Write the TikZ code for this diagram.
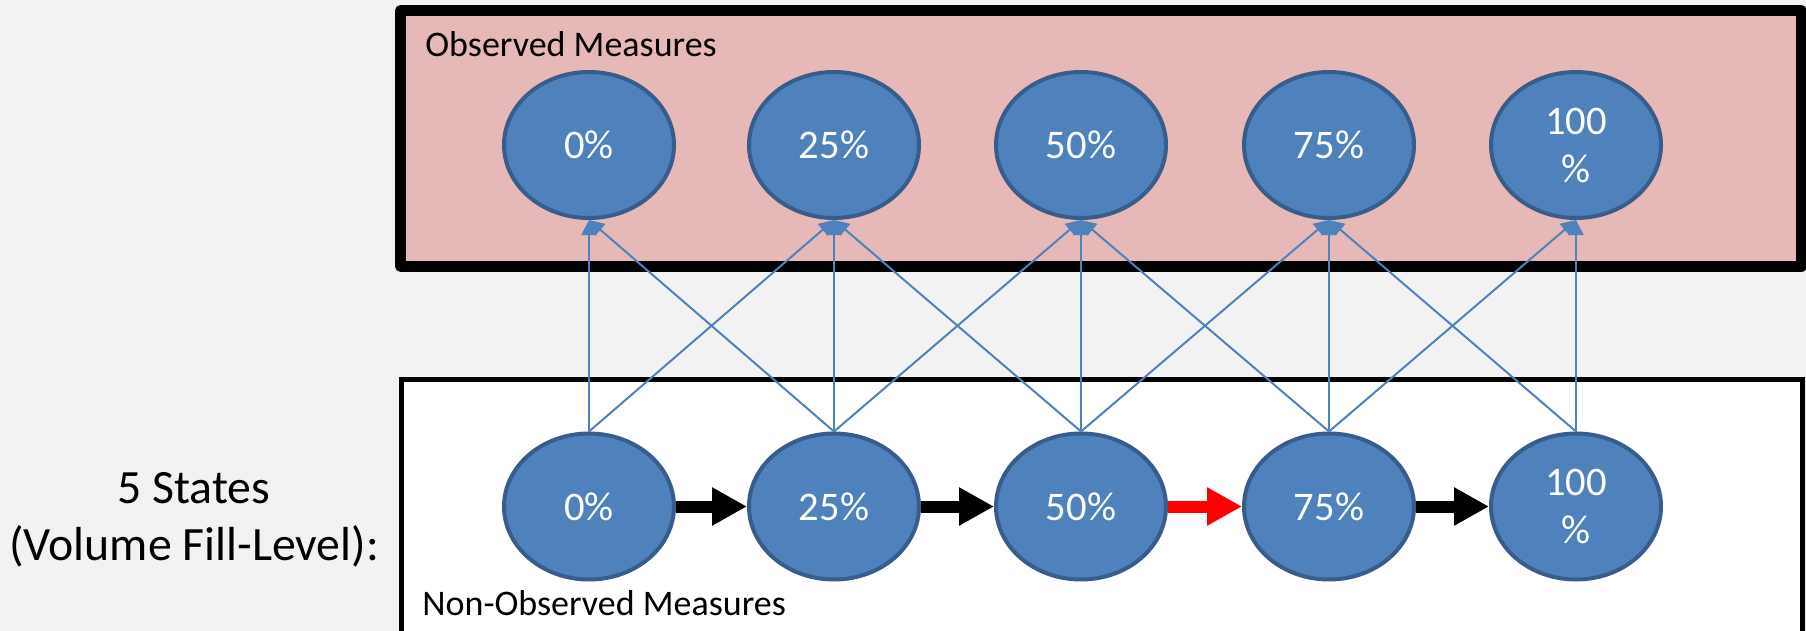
\documentclass[tikz,border=0pt]{standalone}
\usepackage{fontspec}
\setmainfont{Carlito}
\usetikzlibrary{shapes.geometric,arrows.meta}
\definecolor{bg}{HTML}{F2F2F2}
\definecolor{obsfill}{HTML}{E6B9B8}
\definecolor{nodefill}{HTML}{4F81BD}
\definecolor{nodeedge}{HTML}{385D8A}
\definecolor{linkblue}{HTML}{4F81BD}
\definecolor{hotred}{HTML}{FF0000}
\begin{document}
\begin{tikzpicture}[x=0.5pt,y=-0.5pt,
  state/.style={ellipse, draw=nodeedge, fill=nodefill, line width=2pt,
    minimum width=85pt, minimum height=73pt, inner sep=0pt,
    text=white, font=\fontsize{20.3}{24}\selectfont, align=center},
  emit/.style={draw=linkblue, line width=1pt, -{Triangle[length=7.5pt,width=7.5pt]}},
  trans/.style={line width=6pt, -{Triangle[length=17.5pt,width=18pt]}},
  boxlabel/.style={font=\fontsize{18}{21.6}\selectfont, anchor=base west, inner sep=0pt},
  sidelabel/.style={font=\fontsize{23.9}{28}\selectfont, anchor=base, inner sep=0pt}]
\useasboundingbox (0,0) rectangle (1806,631);
\fill[bg] (0,0) rectangle (1806,631);
% boxes
\draw[line width=5.5pt, fill=obsfill, line join=round] (400.5,10.5) rectangle (1801,266);
\draw[line width=2.5pt, fill=white] (401,379.5) rectangle (1802,645);
\node[boxlabel] (obs) at (425,57) {Observed Measures};
\node[boxlabel] (nonobs) at (422,615) {Non-Observed Measures};
\node[sidelabel] (side1) at (194,503) {5 States};
\node[sidelabel] (side2) at (194,560) {(Volume Fill-Level):};
% observed
\node[state] (t0) at (589,145) {0\%};
\node[state] (t1) at (834,145) {25\%};
\node[state] (t2) at (1081,145) {50\%};
\node[state] (t3) at (1329,145) {75\%};
\node[state] (t4) at (1576,145) {100\\\%};
% hidden
\node[state] (b0) at (589,506.5) {0\%};
\node[state] (b1) at (834,506.5) {25\%};
\node[state] (b2) at (1081,506.5) {50\%};
\node[state] (b3) at (1329,506.5) {75\%};
\node[state] (b4) at (1576,506.5) {100\\\%};
% emissions
\draw[emit] (b0.north) -- (t0.south);
\draw[emit] (b0.north) -- (t1.south);
\draw[emit] (b1.north) -- (t0.south);
\draw[emit] (b1.north) -- (t1.south);
\draw[emit] (b1.north) -- (t2.south);
\draw[emit] (b2.north) -- (t1.south);
\draw[emit] (b2.north) -- (t2.south);
\draw[emit] (b2.north) -- (t3.south);
\draw[emit] (b3.north) -- (t2.south);
\draw[emit] (b3.north) -- (t3.south);
\draw[emit] (b3.north) -- (t4.south);
\draw[emit] (b4.north) -- (t3.south);
\draw[emit] (b4.north) -- (t4.south);
% transitions
\draw[trans, black] (b0.east) -- (b1.west);
\draw[trans, black] (b1.east) -- (b2.west);
\draw[trans, hotred] (b2.east) -- (b3.west);
\draw[trans, black] (b3.east) -- (b4.west);
\end{tikzpicture}
\end{document}
